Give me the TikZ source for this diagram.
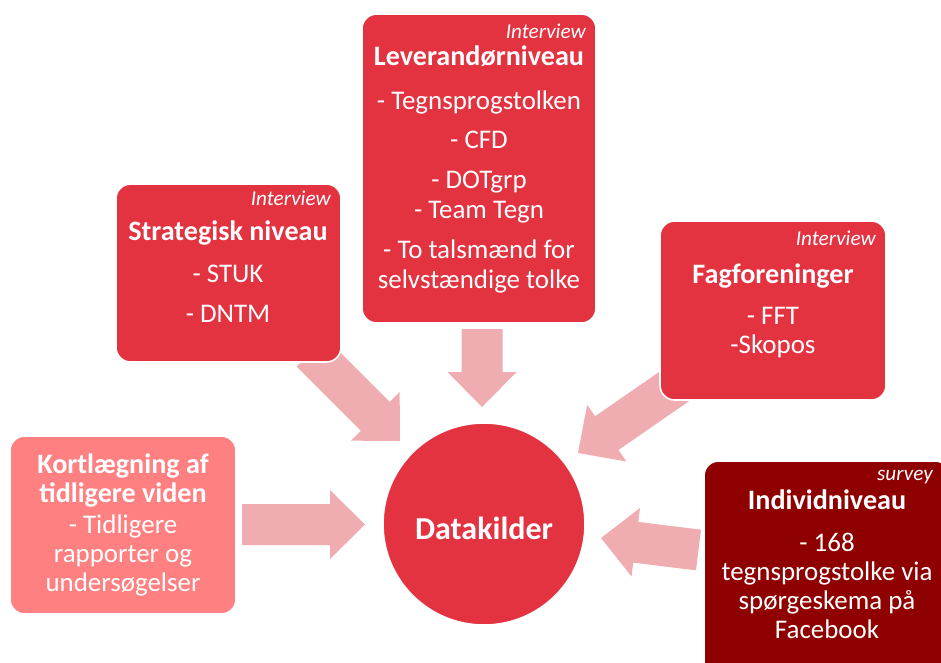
\documentclass[tikz,border=0pt]{standalone}
\usepackage{fontspec}
\setmainfont{Carlito}
\usetikzlibrary{calc}

\definecolor{boxred}{RGB}{227,50,64}
\definecolor{boxpink}{RGB}{255,128,128}
\definecolor{boxdark}{RGB}{143,0,0}
\definecolor{arrowpink}{RGB}{239,173,177}

% Block arrow from a tail coordinate to a tip coordinate
% (head length 35px, head half-width 34.5px, shaft half-width 20.5px)
\newcommand\blockarrow[3]{%
  \coordinate (#1h) at ($(#3)!26.25pt!(#2)$);
  \fill[arrowfill] (#3)
    -- ($(#1h)!25.875pt!90:(#3)$)
    -- ($(#1h)!15.375pt!90:(#3)$)
    -- ($(#2)!15.375pt!90:(#3)$)
    -- ($(#2)!15.375pt!-90:(#3)$)
    -- ($(#1h)!15.375pt!-90:(#3)$)
    -- ($(#1h)!25.875pt!-90:(#3)$)
    -- cycle;}

\begin{document}
\begin{tikzpicture}[x=0.75pt,y=-0.75pt,
  arrowfill/.style={fill=arrowpink},
  card/.style={draw=white, line width=1.2pt, rounded corners=11pt, inner sep=0pt},
  tagtxt/.style={text=white, inner sep=0pt, anchor=base east, font=\fontsize{15.9}{18}\itshape\selectfont},
  headtxt/.style={text=white, inner sep=0pt, anchor=base, font=\fontsize{21.1}{24}\bfseries\selectfont},
  bodytxt/.style={text=white, inner sep=0pt, anchor=base, font=\fontsize{20.2}{23}\selectfont}]
\useasboundingbox (0,0) rectangle (941,662);
\clip (0,0) rectangle (941,662);

% arrow end points
\coordinate (topS) at (482,329);   \coordinate (topE) at (482,407);
\coordinate (strS) at (311,352);   \coordinate (strE) at (400,441);
\coordinate (fagS) at (685,379);   \coordinate (fagE) at (578,453);
\coordinate (korS) at (242,524.5); \coordinate (korE) at (365,524.5);
\coordinate (indS) at (698.5,550); \coordinate (indE) at (601,538);

\blockarrow{atop}{topS}{topE}
\blockarrow{astr}{strS}{strE}
\blockarrow{afag}{fagS}{fagE}
\blockarrow{akor}{korS}{korE}
\blockarrow{aind}{indS}{indE}

% boxes
\node[card, fill=boxred, minimum width=175.5pt, minimum height=231.75pt] (lev) at (479,168.5) {};
\node[card, fill=boxred, minimum width=168.75pt, minimum height=133.5pt] (str) at (228.5,273) {};
\node[card, fill=boxred, minimum width=169.5pt, minimum height=134.25pt] (fag) at (773,310.5) {};
\node[card, fill=boxpink, minimum width=169.5pt, minimum height=133.5pt] (kor) at (123,525) {};
\node[card, fill=boxdark, minimum width=184.5pt, minimum height=194.25pt] (ind) at (827,590.5) {};

% centre
\node[circle, fill=boxred, draw=white, line width=1.2pt, minimum size=151.5pt, inner sep=0pt] (data) at (484,524) {};
\node[text=white, font=\fontsize{24}{28}\bfseries\selectfont] (datatxt) at (484,528) {Datakilder};

% Leverandørniveau
\node[tagtxt] (levtag) at (586,38) {Interview};
\node[headtxt] (levh) at (479,65) {Leverandørniveau};
\node[bodytxt] (lev1) at (479,109) {- Tegnsprogstolken};
\node[bodytxt] (lev2) at (479,148) {- CFD};
\node[bodytxt] (lev3) at (479,188) {- DOTgrp};
\node[bodytxt] (lev4) at (479,218) {- Team Tegn};
\node[bodytxt] (lev5) at (479,258) {- To talsmænd for};
\node[bodytxt] (lev6) at (479,288) {selvstændige tolke};

% Strategisk niveau
\node[tagtxt] (strtag) at (331,205) {Interview};
\node[headtxt] (strh) at (228,240) {Strategisk niveau};
\node[bodytxt] (str1) at (228,282) {- STUK};
\node[bodytxt] (str2) at (228,322) {- DNTM};

% Fagforeninger
\node[tagtxt] (fagtag) at (876,245.5) {Interview};
\node[headtxt] (fagh) at (773,283) {Fagforeninger};
\node[bodytxt] (fag1) at (773,324) {- FFT};
\node[bodytxt] (fag2) at (773,353.5) {-Skopos};

% Kortlægning af tidligere viden
\node[headtxt] (korh1) at (123,473) {Kortlægning af};
\node[headtxt] (korh2) at (123,502.5) {tidligere viden};
\node[bodytxt] (kor1) at (123,533) {- Tidligere};
\node[bodytxt] (kor2) at (123,562) {rapporter og};
\node[bodytxt] (kor3) at (123,591) {undersøgelser};

% Individniveau
\node[tagtxt] (indtag) at (933,480) {survey};
\node[headtxt] (indh) at (827,509) {Individniveau};
\node[bodytxt] (ind1) at (827,551.5) {- 168};
\node[bodytxt] (ind2) at (827,580.5) {tegnsprogstolke via};
\node[bodytxt] (ind3) at (827,609.5) {spørgeskema på};
\node[bodytxt] (ind4) at (827,638.5) {Facebook};
\end{tikzpicture}
\end{document}
